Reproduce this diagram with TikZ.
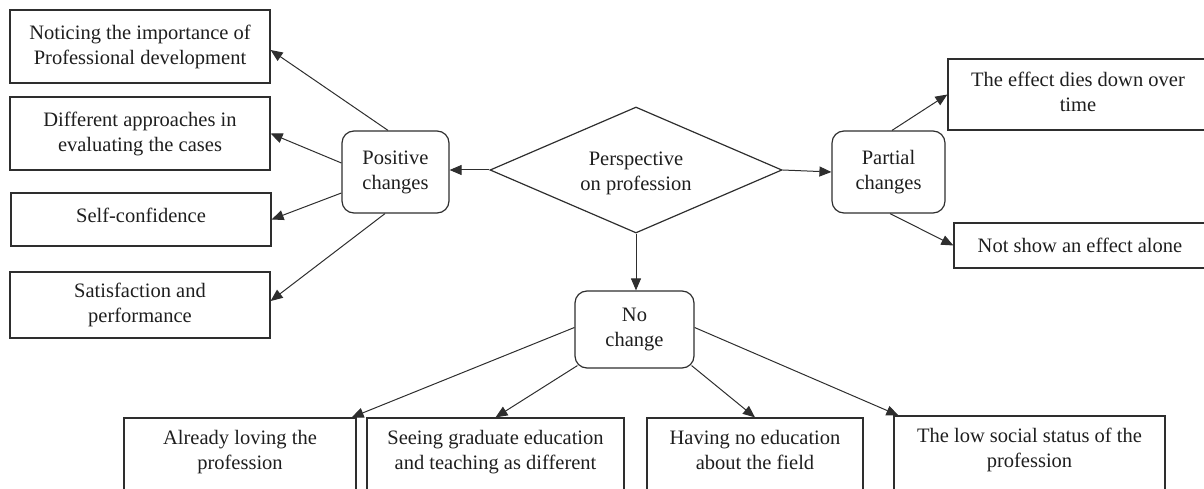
\documentclass[tikz,border=0pt]{standalone}
\usepackage{fontspec}
\setmainfont{Liberation Serif}
\usetikzlibrary{shapes.geometric,arrows.meta,calc}
\definecolor{ln}{HTML}{2E2E2E}
\definecolor{txtc}{HTML}{1E1E1E}
\begin{document}
\begin{tikzpicture}[x=1pt,y=-1pt,
  font=\fontsize{20.5}{25}\selectfont,
  box/.style={draw=ln, line width=1.2pt, rectangle, inner sep=0pt, align=center, text=txtc},
  rbox/.style={box, rounded corners=12pt},
  txt/.style={inner sep=0pt, align=center, text=txtc, anchor=north},
  arr/.style={draw=ln, line width=1pt, -{Triangle[length=12pt,width=10pt]}}]
\useasboundingbox (0,0) rectangle (1204,489);
\clip (0,0) rectangle (1204,489);
% left column
\node[box, minimum width=260pt, minimum height=73pt] (b1) at (140,46.5) {Noticing the importance of\\Professional development};
\node[box, minimum width=260pt, minimum height=73pt] (b2) at (140,133.5) {Different approaches in\\evaluating the cases};
\node[box, minimum width=260pt, minimum height=53pt] (b3) at (141,219.5) {};
\node[txt, anchor=center] at ([yshift=4pt]b3.center) {Self-confidence};
\node[box, minimum width=260pt, minimum height=66pt] (b4) at (140,305) {Satisfaction and\\performance};
% centre
\node[rbox, minimum width=107pt, minimum height=82pt] (pos) at (395.5,172) {Positive\\changes};
\node[draw=ln, line width=1.2pt, diamond, aspect=2.317, minimum width=292pt, minimum height=126pt, inner sep=0pt, align=center, text=txtc] (dia) at (636,170) {};
\node[txt, anchor=center] at ([yshift=-3pt]dia.center) {Perspective\\on profession};
\node[rbox, minimum width=113pt, minimum height=82pt] (part) at (888.5,172) {Partial\\changes};
\node[rbox, minimum width=119pt, minimum height=77pt] (noch) at (634.5,329.5) {No\\change};
% right column
\node[box, minimum width=260pt, minimum height=71pt] (eff) at (1078,94.5) {};
\node[txt] at ([yshift=-13pt]eff.north) {The effect dies down over\\time};
\node[box, minimum width=252pt, minimum height=45pt] (ns) at (1080,245.5) {Not show an effect alone};
% bottom row
\node[box, minimum width=232pt, minimum height=120pt] (al) at (240,478) {};
\node[txt] at ([yshift=-13pt]al.north) {Already loving the\\profession};
\node[box, minimum width=257pt, minimum height=120pt] (se) at (495.5,478) {};
\node[txt] at ([yshift=-13pt]se.north) {Seeing graduate education\\and teaching as different};
\node[box, minimum width=216pt, minimum height=120pt] (ha) at (755,478) {};
\node[txt] at ([yshift=-13pt]ha.north) {Having no education\\about the field};
\node[box, minimum width=271pt, minimum height=120pt] (lo) at (1029.5,476) {};
\node[txt] at ([yshift=-12pt]lo.north) {The low social status of the\\profession};
% connectors
\draw[arr] ([xshift=-7.5pt]pos.north) -- ([yshift=-3.5pt]b1.east);
\draw[arr] ([yshift=9pt]pos.west) -- (b2.east);
\draw[arr] ([yshift=-21pt]pos.west) -- (b3.east);
\draw[arr] ([xshift=-10.5pt]pos.south) -- ([yshift=4pt]b4.east);
\draw[arr] (dia.west) -- (dia.west -| pos.east);
\draw[arr] (dia.east) -- (part.west);
\draw[arr] (dia.south) -- (dia.south |- noch.north);
\draw[arr] ([xshift=3.5pt]part.north) -- (eff.west);
\draw[arr] ([xshift=1.5pt]part.south) -- (ns.west);
\draw[arr] ([yshift=2pt]noch.west) -- ([xshift=-5pt]al.north east);
\draw[arr] ([xshift=3pt,yshift=3pt]noch.south west) -- (se.north);
\draw[arr] ([xshift=-3pt,yshift=3pt]noch.south east) -- (ha.north);
\draw[arr] ([yshift=2pt]noch.east) -- ([xshift=5pt]lo.north west);
\end{tikzpicture}
\end{document}
